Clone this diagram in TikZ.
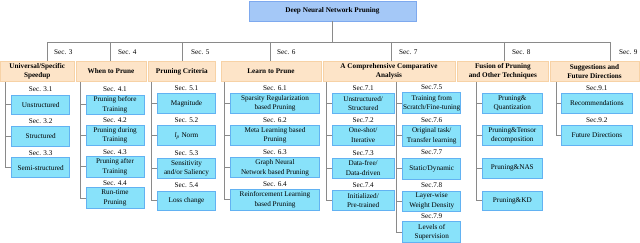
\documentclass[tikz,border=0pt]{standalone}
\usepackage{fontspec}
\setmainfont{Liberation Serif}
\definecolor{rootfill}{HTML}{A4C8F7}
\definecolor{rootdraw}{HTML}{7EA9EE}
\definecolor{hfill}{HTML}{FDE4C8}
\definecolor{hdraw}{HTML}{F7D2A6}
\definecolor{lfill}{HTML}{88E2FA}
\definecolor{ldraw}{HTML}{62B2F2}
\definecolor{lin}{HTML}{8A8A8A}
\newcommand\bx[7]{\node[#1, minimum width={(#5)-(#3)}, minimum height={(#6)-(#4)}] (#2) at ({((#3)+(#5))/2},{-((#4)+(#6))/2}) {#7};}
\newcommand\seclbl[4]{\node[seclab] (#1) at ({#2},{-(#3)}) {#4};}
\begin{document}
\begin{tikzpicture}[x=1pt,y=1pt,
  rootbox/.style={draw=rootdraw,fill=rootfill,line width=0.8pt,align=center,inner sep=0pt,font=\fontsize{7.2}{9.4}\selectfont\bfseries},
  headbox/.style={draw=hdraw,fill=hfill,line width=0.8pt,align=center,inner sep=0pt,font=\fontsize{7.2}{9.4}\selectfont\bfseries},
  leafbox/.style={draw=ldraw,fill=lfill,line width=0.8pt,align=center,inner sep=0pt,font=\fontsize{7.2}{9.4}\selectfont},
  seclab/.style={inner sep=0pt,font=\fontsize{7.2}{9.4}\selectfont},
  toplab/.style={inner sep=0pt,anchor=west,font=\fontsize{7.2}{9.4}\selectfont},
  tline/.style={draw=lin,line width=0.8pt}]
\useasboundingbox (0,0) rectangle (640,-243);
% root
\bx{rootbox}{root}{249}{1}{416}{21}{Deep Neural Network Pruning}
% headers
\bx{headbox}{h3}{0.5}{61}{74}{81.7}{Universal/Specific\\Speedup}
\bx{headbox}{h4}{76}{61}{146}{81.7}{When to Prune}
\bx{headbox}{h5}{148}{61}{215.7}{81.7}{Pruning Criteria}
\bx{headbox}{h6}{221}{61}{321}{81.7}{Learn to Prune}
\bx{headbox}{h7}{323}{61}{455}{81.7}{A Comprehensive Comparative\\Analysis}
\bx{headbox}{h8}{457}{61}{548.7}{81.7}{Fusion of Pruning\\and Other Techniques}
\bx{headbox}{h9}{550}{61}{639}{81.7}{Suggestions and\\Future Directions}
% top section labels
\node[toplab] (s3) at (54,-52) {Sec. 3};
\node[toplab] (s4) at (118,-52) {Sec. 4};
\node[toplab] (s5) at (191,-52) {Sec. 5};
\node[toplab] (s6) at (277,-52) {Sec. 6};
\node[toplab] (s7) at (399,-52) {Sec. 7};
\node[toplab] (s8) at (512,-52) {Sec. 8};
\node[toplab] (s9) at (619,-52) {Sec. 9};
% bus coordinates
\coordinate (d3) at (47.7,-42);
\coordinate (d4) at (110,-42);
\coordinate (d5) at (182.7,-42);
\coordinate (d6) at (270.7,-42);
\coordinate (d7) at (391.7,-42);
\coordinate (d8) at (504,-42);
\coordinate (d9) at (610.7,-42);
% column 3
\bx{leafbox}{l31}{11.7}{95}{69.7}{114.7}{Unstructured}
\bx{leafbox}{l32}{11.7}{126}{69.7}{146}{Structured}
\bx{leafbox}{l33}{11.7}{157.7}{69.7}{177.7}{Semi-structured}
\seclbl{t31}{40.7}{89.3}{Sec. 3.1}
\seclbl{t32}{40.7}{121.2}{Sec. 3.2}
\seclbl{t33}{40.7}{152.7}{Sec. 3.3}
% column 4
\bx{leafbox}{l41}{86}{95}{144}{114.7}{Pruning before\\Training}
\bx{leafbox}{l42}{86}{125}{144}{145.7}{Pruning during\\Training}
\bx{leafbox}{l43}{86}{156.7}{144}{177}{Pruning after\\Training}
\bx{leafbox}{l44}{86}{187.7}{144}{208.3}{Run-time\\Pruning}
\seclbl{t41}{115}{89.3}{Sec. 4.1}
\seclbl{t42}{115}{120.3}{Sec. 4.2}
\seclbl{t43}{115}{151.7}{Sec. 4.3}
\seclbl{t44}{115}{182.7}{Sec. 4.4}
% column 5
\bx{leafbox}{l51}{157.3}{93.3}{215.7}{113.3}{Magnitude}
\bx{leafbox}{l52}{157.3}{125.7}{215.7}{145.7}{\textit{l}\textsubscript{\textit{p}} Norm}
\bx{leafbox}{l53}{157.3}{158.3}{215.7}{178.3}{Sensitivity\\and/or Saliency}
\bx{leafbox}{l54}{157.3}{191}{215.7}{210.7}{Loss change}
\seclbl{t51}{186.5}{87.7}{Sec. 5.1}
\seclbl{t52}{186.5}{120.5}{Sec. 5.2}
\seclbl{t53}{186.5}{153.2}{Sec. 5.3}
\seclbl{t54}{186.5}{185.5}{Sec. 5.4}
% column 6
\bx{leafbox}{l61}{230.7}{93.3}{319.3}{113.3}{Sparsity Regularization\\based Pruning}
\bx{leafbox}{l62}{230.7}{125}{319.3}{145.3}{Meta Learning based\\Pruning}
\bx{leafbox}{l63}{230.7}{157.7}{319.3}{177.7}{Graph Neural\\Network based Pruning}
\bx{leafbox}{l64}{230.7}{189.3}{319.3}{210}{Reinforcement Learning\\based Pruning}
\seclbl{t61}{275}{88}{Sec. 6.1}
\seclbl{t62}{275}{119.7}{Sec. 6.2}
\seclbl{t63}{275}{152.3}{Sec. 6.3}
\seclbl{t64}{275}{184.2}{Sec. 6.4}
% column 7a
\bx{leafbox}{l71}{332.3}{93.3}{394}{113.3}{Unstructured/\\Structured}
\bx{leafbox}{l72}{332.3}{125}{394}{145.3}{One-shot/\\Iterative}
\bx{leafbox}{l73}{332.3}{158}{394}{178}{Data-free/\\Data-driven}
\bx{leafbox}{l74}{332.3}{190.7}{394}{210.7}{Initialized/\\Pre-trained}
\seclbl{t71}{363.2}{88}{Sec.7.1}
\seclbl{t72}{363.2}{120.2}{Sec.7.2}
\seclbl{t73}{363.2}{153}{Sec.7.3}
\seclbl{t74}{363.2}{185.5}{Sec.7.4}
% column 7b
\bx{leafbox}{l75}{402.7}{92.7}{460.7}{113.3}{Training from\\Scratch/Fine-tuning}
\bx{leafbox}{l76}{402.7}{125.3}{460.7}{146}{Original task/\\Transfer learning}
\bx{leafbox}{l77}{402.7}{158.3}{460.7}{179}{Static/Dynamic}
\bx{leafbox}{l78}{402.7}{191}{460.7}{211}{Layer-wise\\Weight Density}
\bx{leafbox}{l79}{402.7}{221.7}{460.7}{242.3}{Levels of\\Supervision}
\seclbl{t75}{431.7}{87.3}{Sec.7.5}
\seclbl{t76}{431.7}{120.3}{Sec.7.6}
\seclbl{t77}{431.7}{152.3}{Sec.7.7}
\seclbl{t78}{431.7}{185.3}{Sec.7.8}
\seclbl{t79}{431.7}{216.5}{Sec.7.9}
% column 8
\bx{leafbox}{l81}{482.3}{93.3}{542.3}{113.3}{Pruning\&\\Quantization}
\bx{leafbox}{l82}{482.3}{125}{542.3}{145.7}{Pruning\&Tensor\\decomposition}
\bx{leafbox}{l83}{482.3}{158.3}{542.3}{178.3}{Pruning\&NAS}
\bx{leafbox}{l84}{482.3}{191}{542.3}{210.7}{Pruning\&KD}
% column 9
\bx{leafbox}{l91}{561.7}{93.3}{632}{113.3}{Recommendations}
\bx{leafbox}{l92}{561.7}{125}{632}{145.3}{Future Directions}
\seclbl{t91}{596.8}{88.5}{Sec.9.1}
\seclbl{t92}{596.8}{120}{Sec.9.2}
% column trunk coordinates
\coordinate (v3) at (5.3,0);
\coordinate (v4) at (80,0);
\coordinate (v5) at (151.7,0);
\coordinate (v6) at (224,0);
\coordinate (v7a) at (326.7,0);
\coordinate (v7b) at (396.7,0);
\coordinate (v8) at (476.7,0);
\coordinate (v9) at (556,0);
% top connectors
\draw[tline] (root.south) -- (root.south |- d3);
\draw[tline] (h3.north -| d3) -- (d3) -- (d9) -- (h9.north -| d9);
\draw[tline] (d4) -- (d4 |- h4.north);
\draw[tline] (d5) -- (d5 |- h5.north);
\draw[tline] (d6) -- (d6 |- h6.north);
\draw[tline] (d7) -- (d7 |- h7.north);
\draw[tline] (d8) -- (d8 |- h8.north);
% column connectors
\draw[tline] (h3.south -| v3) |- (l33.west);
\foreach \n in {l31,l32} \draw[tline] (v3 |- \n.west) -- (\n.west);
\draw[tline] (h4.south -| v4) |- (l44.west);
\foreach \n in {l41,l42,l43} \draw[tline] (v4 |- \n.west) -- (\n.west);
\draw[tline] (h5.south -| v5) |- (l54.west);
\foreach \n in {l51,l52,l53} \draw[tline] (v5 |- \n.west) -- (\n.west);
\draw[tline] (h6.south -| v6) |- (l64.west);
\foreach \n in {l61,l62,l63} \draw[tline] (v6 |- \n.west) -- (\n.west);
\draw[tline] (h7.south -| v7a) |- (l74.west);
\foreach \n in {l71,l72,l73} \draw[tline] (v7a |- \n.west) -- (\n.west);
\draw[tline] (h7.south -| v7b) |- (l79.west);
\foreach \n in {l75,l76,l77,l78} \draw[tline] (v7b |- \n.west) -- (\n.west);
\draw[tline] (h8.south -| v8) |- (l84.west);
\foreach \n in {l81,l82,l83} \draw[tline] (v8 |- \n.west) -- (\n.west);
\draw[tline] (h9.south -| v9) |- (l92.west);
\draw[tline] (v9 |- l91.west) -- (l91.west);
\end{tikzpicture}
\end{document}
